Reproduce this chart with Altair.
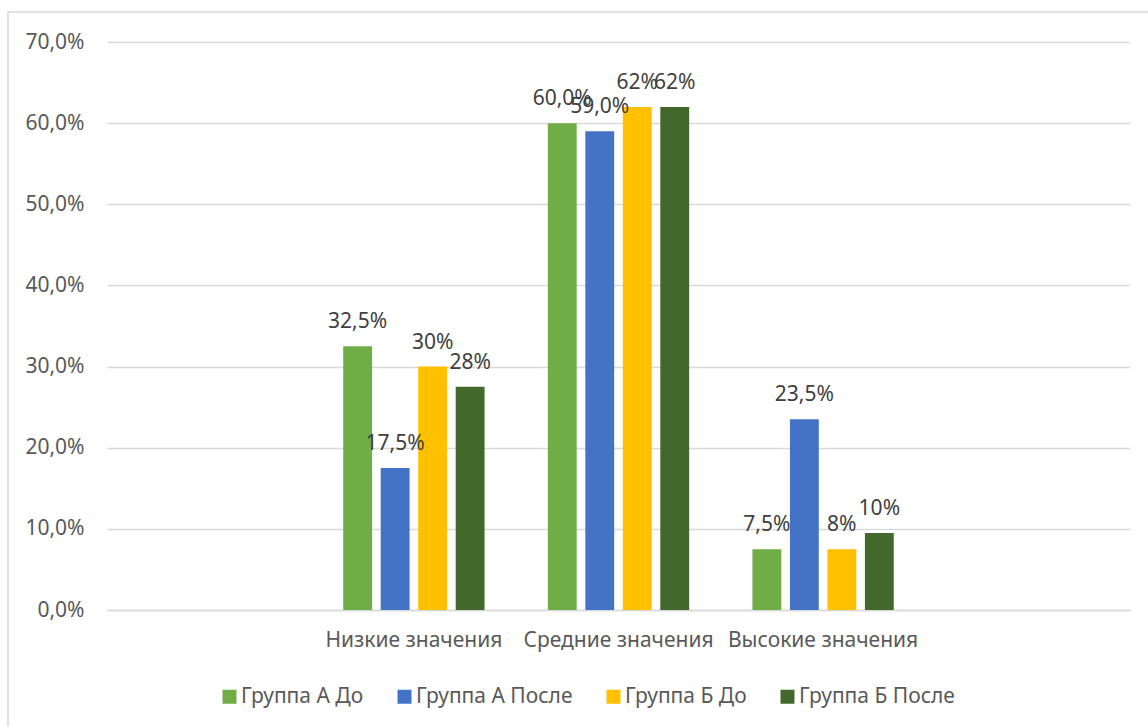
import altair as alt
import pandas as pd

categories = ["", "Низкие значения", "Средние значения", "Высокие значения", " "]
data_categories = ["Низкие значения", "Средние значения", "Высокие значения"]
series = ["Группа А До", "Группа А После", "Группа Б До", "Группа Б После"]
colors = ["#70AD47", "#4472C4", "#FFC000", "#43682B"]

values = {
    "Группа А До": [0.325, 0.600, 0.075],
    "Группа А После": [0.175, 0.590, 0.235],
    "Группа Б До": [0.300, 0.620, 0.075],
    "Группа Б После": [0.275, 0.620, 0.095],
}
labels = {
    "Группа А До": ["32,5%", "60,0%", "7,5%"],
    "Группа А После": ["17,5%", "59,0%", "23,5%"],
    "Группа Б До": ["30%", "62%", "8%"],
    "Группа Б После": ["28%", "62%", "10%"],
}

rows = []
for s in series:
    for c, v, l in zip(data_categories, values[s], labels[s]):
        rows.append({"cat": c, "series": s, "value": v, "label": l})
df = pd.DataFrame(rows)

FONT = "Noto Sans"

x = alt.X("cat:N", scale=alt.Scale(domain=categories, paddingInner=0.267, paddingOuter=0.1335),
          sort=categories,
          axis=alt.Axis(title=None, labelAngle=0, ticks=False, domain=True, grid=False,
                        domainColor="#d9d9d9", domainWidth=1.5, labelLimit=0,
                        labelFont=FONT, labelFontSize=21, labelColor="#595959",
                        labelPadding=19))
xo = alt.XOffset("series:N", scale=alt.Scale(domain=series, paddingInner=0.23, paddingOuter=0.115))
y = alt.Y("value:Q", scale=alt.Scale(domain=[0, 0.7]),
          axis=alt.Axis(title=None, format=".1%", values=[0, 0.1, 0.2, 0.3, 0.4, 0.5, 0.6, 0.7],
                        ticks=False, domain=False, gridColor="#d9d9d9", gridWidth=1.5,
                        labelFont=FONT, labelFontSize=21, labelColor="#595959",
                        labelPadding=23,
                        labelExpr="replace(datum.label, '.', ',')"))
color = alt.Color("series:N", scale=alt.Scale(domain=series, range=colors),
                  legend=alt.Legend(title=None, orient="none", direction="horizontal",
                                    legendX=112, legendY=644, symbolType="square",
                                    symbolSize=196, symbolStrokeWidth=0,
                                    labelFont=FONT, labelFontSize=21, labelColor="#595959",
                                    columnPadding=30, labelOffset=1, padding=0))

base = alt.Chart(df)
bars = base.mark_bar().encode(x=x, xOffset=xo, y=y, color=color)
text = base.mark_text(baseline="alphabetic", dy=-18, font=FONT, fontSize=21, color="#404040").encode(
    x=x, xOffset=xo, y=y, text="label:N")

frame = alt.Chart(alt.Data(values=[{"a": 1}])).mark_rect(
    fillOpacity=0, stroke="#d9d9d9", strokeWidth=1.5).encode(
    x=alt.value(-99), x2=alt.value(1100), y=alt.value(-30), y2=alt.value(720))

chart = alt.layer(bars, text, frame).properties(
    width=1023, height=568,
    background="white",
    autosize=alt.AutoSizeParams(type="none"),
    padding={"left": 107, "top": 42, "right": 18, "bottom": 117},
).configure_view(stroke=None, strokeWidth=0)

chart.save("out.html", embed_options={"renderer": "svg", "actions": False})
